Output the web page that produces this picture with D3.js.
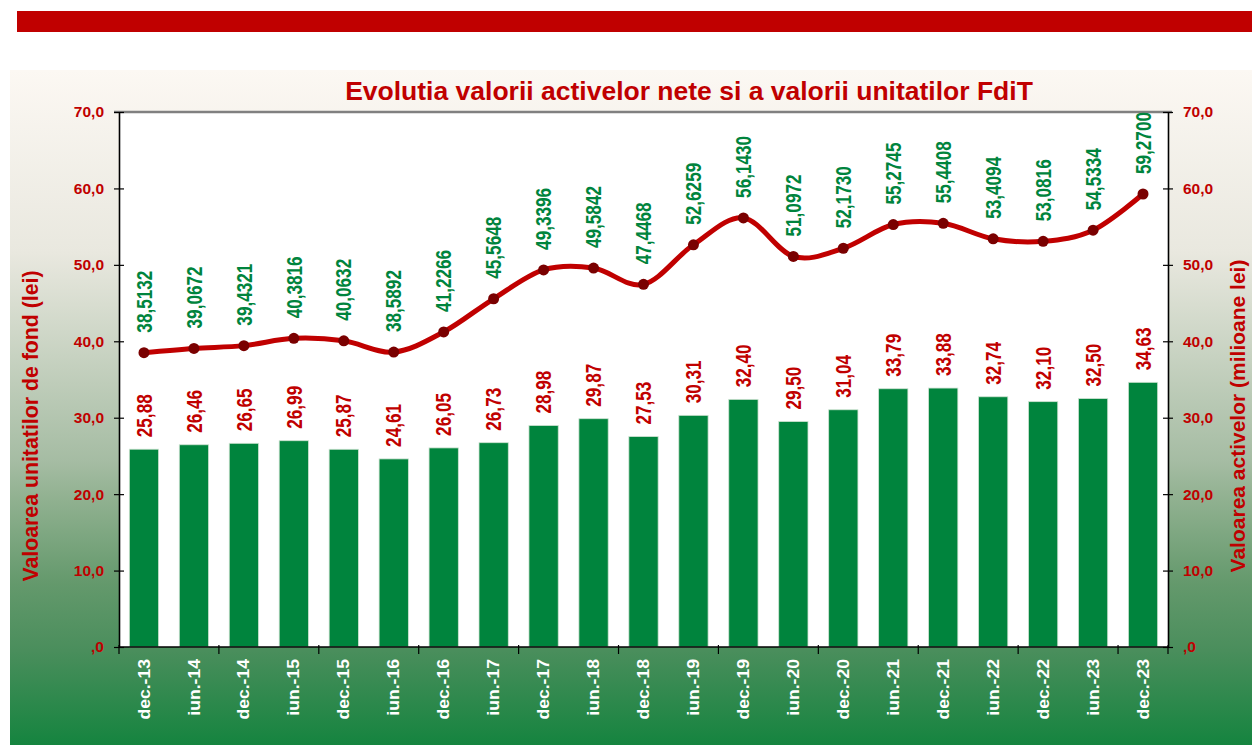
<!DOCTYPE html>
<html>
<head>
<meta charset="utf-8">
<script src="https://cdnjs.cloudflare.com/ajax/libs/d3/7.8.5/d3.min.js"></script>
<style>
  html, body { margin: 0; padding: 0; background: #fff; }
  svg { display: block; }
</style>
</head>
<body>
<div id="chart"></div>
<script>
// Evolutia valorii activelor nete (bare) si a valorii unitatilor (linie)
const categories = ["dec.-13", "iun.-14", "dec.-14", "iun.-15", "dec.-15", "iun.-16", "dec.-16",
  "iun.-17", "dec.-17", "iun.-18", "dec.-18", "iun.-19", "dec.-19", "iun.-20", "dec.-20",
  "iun.-21", "dec.-21", "iun.-22", "dec.-22", "iun.-23", "dec.-23"];

// valoarea activelor (milioane lei) - axa dreapta
const assetValues = [25.88, 26.46, 26.65, 26.99, 25.87, 24.61, 26.05, 26.73, 28.98, 29.87, 27.53,
  30.31, 32.40, 29.50, 31.04, 33.79, 33.88, 32.74, 32.10, 32.50, 34.63];

// valoarea unitatii de fond (lei) - axa stanga
const unitValues = [38.5132, 39.0672, 39.4321, 40.3816, 40.0632, 38.5892, 41.2266, 45.5648,
  49.3396, 49.5842, 47.4468, 52.6259, 56.1430, 51.0972, 52.1730, 55.2745, 55.4408, 53.4094,
  53.0816, 54.5334, 59.2700];

const yTicks = [0, 10, 20, 30, 40, 50, 60, 70];

const W = 1252, H = 745;
const RED = "#c00000", GREEN = "#00843d";
const plot = { left: 119, right: 1168, top: 112, bottom: 647 };

const fmt2 = v => v.toFixed(2).replace(".", ",");
const fmt4 = v => v.toFixed(4).replace(".", ",");
const fmtTick = v => (v === 0 ? "" : String(v)) + ",0";

const svg = d3.select("#chart").append("svg")
  .attr("width", W)
  .attr("height", H);

// fundal cu degrade
const defs = svg.append("defs");
const grad = defs.append("linearGradient")
  .attr("id", "bg").attr("x1", 0).attr("y1", 0).attr("x2", 0).attr("y2", 1);
[[0, "#fcf8f3"], [0.27, "#e9e8df"], [0.58, "#a5bca3"], [0.64, "#8fb08f"],
 [0.76, "#64996c"], [0.86, "#4a8e5c"], [1, "#15843f"]].forEach(([o, c]) => {
  grad.append("stop").attr("offset", o).attr("stop-color", c);
});

// banda rosie de sus
svg.append("rect")
  .attr("x", 17).attr("y", 11).attr("width", W - 17).attr("height", 21)
  .attr("fill", RED);

svg.append("rect")
  .attr("x", 10).attr("y", 70).attr("width", W - 10).attr("height", H - 70)
  .attr("fill", "url(#bg)");

// zona graficului
svg.append("rect")
  .attr("x", plot.left).attr("y", plot.top)
  .attr("width", plot.right - plot.left).attr("height", plot.bottom - plot.top)
  .attr("fill", "#fff");

svg.append("text")
  .attr("x", 689).attr("y", 100)
  .attr("text-anchor", "middle")
  .attr("font-family", "Liberation Sans, Arial, sans-serif")
  .attr("font-weight", "bold")
  .attr("font-size", 26.5)
  .attr("fill", RED)
  .text("Evolutia valorii activelor nete si a valorii unitatilor FdiT");

// scale
const x = d3.scaleBand()
  .domain(categories)
  .range([plot.left, plot.right])
  .padding(0);

const y = d3.scaleLinear().domain([0, 70]).range([plot.bottom, plot.top]);

const barW = x.bandwidth() * 0.586;
const cx = d => x(d) + x.bandwidth() / 2;

// bare
const barData = categories.map((c, i) => ({ c, v: assetValues[i] }));
svg.append("g").selectAll("rect")
  .data(barData)
  .enter().append("rect")
  .attr("x", d => cx(d.c) - barW / 2)
  .attr("y", d => y(d.v))
  .attr("width", barW)
  .attr("height", d => y(0) - y(d.v))
  .attr("fill", GREEN)
  .attr("stroke", "#cfe3d2")
  .attr("stroke-width", 0.8);

// etichete bare (font ingust: Liberation Sans comprimat pe directia textului)
const labelFont = "Liberation Sans, Arial, sans-serif";
const narrow = 0.78;
svg.append("g").selectAll("text")
  .data(barData)
  .enter().append("text")
  .attr("transform", d => `translate(${cx(d.c)},${y(d.v) - 12}) rotate(-90) scale(${narrow},1)`)
  .attr("dy", "0.35em")
  .attr("font-family", labelFont)
  .attr("font-weight", "bold")
  .attr("font-size", 22)
  .attr("fill", RED)
  .text(d => fmt2(d.v));

// axe
const axisG = svg.append("g");
// linia de sus, gri
axisG.append("line")
  .attr("x1", plot.left - 5).attr("x2", plot.right + 4)
  .attr("y1", plot.top).attr("y2", plot.top)
  .attr("stroke", "#808080").attr("stroke-width", 2.5);

const left = svg.append("g")
  .attr("transform", `translate(${plot.left},0)`)
  .call(d3.axisLeft(y).tickValues(yTicks).tickFormat(fmtTick).tickSizeInner(5).tickSizeOuter(0).tickPadding(10));
const right = svg.append("g")
  .attr("transform", `translate(${plot.right},0)`)
  .call(d3.axisRight(y).tickValues(yTicks).tickFormat(fmtTick).tickSizeInner(5).tickSizeOuter(0).tickPadding(10));

[left, right].forEach(g => {
  g.select(".domain").attr("stroke", "#000").attr("stroke-width", 1.6);
  g.selectAll(".tick line").attr("stroke", "#000").attr("stroke-width", 1.2)
    .attr("x1", -5).attr("x2", 5);
  g.selectAll(".tick text")
    .attr("font-family", "Liberation Sans, Arial, sans-serif")
    .attr("font-weight", "bold")
    .attr("font-size", 15.5)
    .attr("fill", RED);
});

// axa x
const xAxis = svg.append("g")
  .attr("transform", `translate(0,${plot.bottom})`);
xAxis.append("line")
  .attr("x1", plot.left).attr("x2", plot.right)
  .attr("stroke", "#000").attr("stroke-width", 1.6);
const tickPos = categories.filter((c, i) => i % 2 === 0).map(c => x(c))
  .concat([plot.right]);
xAxis.selectAll(".xt").data(tickPos).enter().append("line")
  .attr("x1", d => d).attr("x2", d => d)
  .attr("y1", -2).attr("y2", 7)
  .attr("stroke", "#000").attr("stroke-width", 1.2);
xAxis.selectAll(".xl").data(categories).enter().append("text")
  .attr("transform", d => `translate(${cx(d)},12) rotate(-90) scale(1.1,1)`)
  .attr("dy", "0.35em")
  .attr("text-anchor", "end")
  .attr("font-family", "Liberation Sans, Arial, sans-serif")
  .attr("font-weight", "bold")
  .attr("font-size", 16)
  .attr("fill", "#fff")
  .text(d => d);

// linia netezita
const lineData = categories.map((c, i) => ({ c, v: unitValues[i] }));
const line = d3.line()
  .x(d => cx(d.c))
  .y(d => y(d.v))
  .curve(d3.curveCardinal.tension(0));

svg.append("path")
  .datum(lineData)
  .attr("d", line)
  .attr("fill", "none")
  .attr("stroke", RED)
  .attr("stroke-width", 5)
  .attr("stroke-linecap", "round");

svg.append("g").selectAll("circle")
  .data(lineData)
  .enter().append("circle")
  .attr("cx", d => cx(d.c))
  .attr("cy", d => y(d.v))
  .attr("r", 5.5)
  .attr("fill", "#7a0000");

svg.append("g").selectAll("text")
  .data(lineData)
  .enter().append("text")
  .attr("transform", d => `translate(${cx(d.c)},${y(d.v) - 20}) rotate(-90) scale(${narrow},1)`)
  .attr("dy", "0.35em")
  .attr("font-family", labelFont)
  .attr("font-weight", "bold")
  .attr("font-size", 22)
  .attr("fill", GREEN)
  .text(d => fmt4(d.v));

// titluri axe
svg.append("text")
  .attr("transform", "translate(38,426) rotate(-90)")
  .attr("text-anchor", "middle")
  .attr("font-family", "Liberation Sans, Arial, sans-serif")
  .attr("font-weight", "bold")
  .attr("font-size", 21.3)
  .attr("fill", RED)
  .text("Valoarea unitatilor de fond (lei)");

svg.append("text")
  .attr("transform", "translate(1245,416) rotate(-90)")
  .attr("text-anchor", "middle")
  .attr("font-family", "Liberation Sans, Arial, sans-serif")
  .attr("font-weight", "bold")
  .attr("font-size", 21)
  .attr("fill", RED)
  .text("Valoarea activelor (milioane lei)");
</script>
</body>
</html>
